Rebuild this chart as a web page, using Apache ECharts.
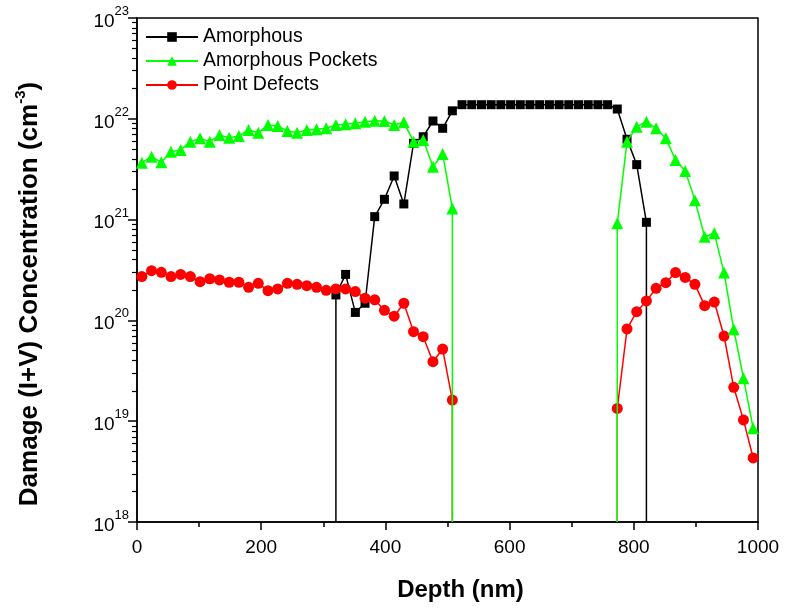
<!DOCTYPE html>
<html>
<head>
<meta charset="utf-8">
<script src="https://cdn.jsdelivr.net/npm/echarts@6/dist/echarts.min.js"></script>
<style>html,body{margin:0;padding:0;background:#fff;}#c{width:787px;height:610px;}</style>
</head>
<body>
<div id="c"></div>
<script>
// Depth positions (nm)
const depth = [7.8, 23.4, 39.1, 54.7, 70.3, 85.9, 101.6, 117.2, 132.8, 148.4, 164.1, 179.7, 195.3, 210.9, 226.6, 242.2,
  257.8, 273.4, 289.1, 304.7, 320.3, 335.9, 351.6, 367.2, 382.8, 398.4, 414.1, 429.7, 445.3, 460.9, 476.6, 492.2,
  507.8, 523.4, 539.1, 554.7, 570.3, 585.9, 601.6, 617.2, 632.8, 648.4, 664.1, 679.7, 695.3, 710.9, 726.6, 742.2,
  757.8, 773.4, 789.1, 804.7, 820.3, 835.9, 851.6, 867.2, 882.8, 898.4, 914.1, 929.7, 945.3, 960.9, 976.6, 992.2];

// Amorphous (cm^-3); null = zero (no damage)
const amorphous = [null, null, null, null, null, null, null, null, null, null, null, null, null, null, null, null,
  null, null, null, null, 1.79e20, 2.86e20, 1.20e20, 1.48e20, 1.07e21, 1.59e21, 2.71e21, 1.43e21, 5.71e21, 6.64e21, 9.51e21, 8.05e21,
  1.20e22, 1.38e22, 1.38e22, 1.38e22, 1.38e22, 1.38e22, 1.38e22, 1.38e22, 1.38e22, 1.38e22, 1.38e22, 1.38e22, 1.38e22, 1.38e22, 1.38e22, 1.38e22,
  1.38e22, 1.25e22, 6.27e21, 3.51e21, 9.40e20, null, null, null, null, null, null, null, null, null, null, null];

// Amorphous Pockets
const pockets = [3.67e21, 4.21e21, 3.70e21, 4.72e21, 4.90e21, 5.93e21, 6.40e21, 5.93e21, 6.90e21, 6.50e21, 6.75e21, 7.74e21, 7.28e21, 8.67e21, 8.49e21, 7.57e21,
  7.28e21, 7.74e21, 7.87e21, 8.05e21, 8.67e21, 8.81e21, 9.02e21, 9.35e21, 9.57e21, 9.51e21, 8.67e21, 9.23e21, 5.93e21, 6.17e21, 3.35e21, 4.48e21,
  1.29e21, null, null, null, null, null, null, null, null, null, null, null, null, null, null, null,
  null, 9.18e20, 5.93e21, 8.36e21, 9.35e21, 8.05e21, 6.40e21, 3.90e21, 3.03e21, 1.56e21, 6.76e20, 7.31e20, 2.98e20, 8.17e19, 2.67e19, 8.51e18];

// Point Defects
const pointDefects = [2.72e20, 3.11e20, 3.00e20, 2.72e20, 2.86e20, 2.72e20, 2.42e20, 2.59e20, 2.52e20, 2.39e20, 2.39e20, 2.13e20, 2.33e20, 1.97e20, 2.05e20, 2.33e20,
  2.28e20, 2.21e20, 2.13e20, 1.99e20, 2.05e20, 2.05e20, 1.93e20, 1.66e20, 1.60e20, 1.26e20, 1.10e20, 1.48e20, 7.73e19, 6.89e19, 3.89e19, 5.20e19,
  1.62e19, null, null, null, null, null, null, null, null, null, null, null, null, null, null, null,
  null, 1.34e19, 8.22e19, 1.22e20, 1.56e20, 2.08e20, 2.37e20, 2.98e20, 2.67e20, 2.28e20, 1.40e20, 1.52e20, 7.00e19, 2.17e19, 1.03e19, 4.32e18];

const seriesNames = ['Amorphous', 'Amorphous Pockets', 'Point Defects'];
const xTicks = [0, 200, 400, 600, 800, 1000];
const yMin = 1e18, yMax = 1e23;

// zero values on a log axis drop vertically to the bottom of the axis
function build(values) {
  const out = [];
  for (let i = 0; i < values.length; i++) {
    const v = values[i];
    const prev = i > 0 ? values[i - 1] : undefined;
    if (v == null) {
      if (prev != null && i > 0) out.push({ value: [depth[i - 1], yMin], symbol: 'none' });
      out.push([depth[i], '-']);
    } else {
      if (prev === null) out.push({ value: [depth[i], yMin], symbol: 'none' });
      out.push([depth[i], v]);
    }
  }
  return out;
}

const FONT = "'Liberation Sans', Arial, sans-serif";
const minorVals = [];
for (let e = 18; e < 23; e++) for (let m = 2; m <= 9; m++) minorVals.push(m * Math.pow(10, e));

const chart = echarts.init(document.getElementById('c'), null, { renderer: 'canvas' });
chart.setOption({
  animation: false,
  backgroundColor: '#fff',
  textStyle: { fontFamily: FONT },
  grid: { left: 137, right: 29, top: 18, bottom: 88, show: true, borderColor: '#000', borderWidth: 1.5, backgroundColor: 'transparent' },
  legend: {
    orient: 'vertical', left: 140, top: 22, itemWidth: 52, itemHeight: 12, itemGap: 4,
    textStyle: { fontSize: 19.5, color: '#000', fontFamily: FONT },
    data: seriesNames
  },
  xAxis: {
    type: 'value', min: xTicks[0], max: xTicks[xTicks.length - 1], interval: 200,
    name: 'Depth (nm)', nameLocation: 'middle', nameGap: 56,
    nameTextStyle: { fontSize: 24, fontWeight: 'bold', color: '#000', fontFamily: FONT, padding: [0, 0, 0, 26] },
    axisLine: { lineStyle: { color: '#000', width: 1.5 } },
    axisTick: { length: 8, lineStyle: { color: '#000', width: 1.5 } },
    minorTick: { show: true, splitNumber: 2, length: 5, lineStyle: { color: '#000', width: 1.5 } },
    axisLabel: { fontSize: 19, color: '#000', margin: 16, fontFamily: FONT, formatter: v => String(v) },
    splitLine: { show: false }
  },
  yAxis: [{
    type: 'log', logBase: 10, min: yMin, max: yMax,
    name: '{t|Damage (I+V) Concentration (cm}{s|-3}{t|)}', nameLocation: 'middle', nameGap: 94,
    nameTextStyle: {
      color: '#000', fontFamily: FONT, padding: [0, 48, 0, 0],
      rich: {
        t: { fontSize: 26, fontWeight: 'bold', color: '#000', fontFamily: FONT, lineHeight: 30, verticalAlign: 'bottom' },
        s: { fontSize: 15, fontWeight: 'bold', color: '#000', fontFamily: FONT, verticalAlign: 'top', lineHeight: 30 }
      }
    },
    axisLine: { show: true, lineStyle: { color: '#000', width: 1.5 } },
    axisTick: { length: 9, lineStyle: { color: '#000', width: 1.5 } },
    axisLabel: {
      margin: 8, color: '#000',
      formatter: v => '{b|10}{s|' + Math.round(Math.log10(v)) + '}',
      rich: {
        b: { fontSize: 19, color: '#000', fontFamily: FONT, lineHeight: 26, verticalAlign: 'bottom' },
        s: { fontSize: 13, color: '#000', fontFamily: FONT, lineHeight: 26, verticalAlign: 'top' }
      }
    },
    splitLine: { show: false }
  }, {
    type: 'log', logBase: 10, min: yMin, max: yMax, position: 'left',
    axisLine: { show: false },
    axisLabel: { show: false },
    axisTick: { show: true, length: 5, customValues: minorVals, lineStyle: { color: '#000', width: 1.2 } },
    splitLine: { show: false }
  }],
  series: [
    {
      name: seriesNames[0], type: 'line', data: build(amorphous), connectNulls: false,
      symbol: 'rect', symbolSize: 9, color: '#000', z: 2,
      lineStyle: { color: '#000', width: 1.5 }, itemStyle: { color: '#000' }, clip: true
    },
    {
      name: seriesNames[2], type: 'line', data: build(pointDefects), connectNulls: false,
      symbol: 'circle', symbolSize: 11, color: '#ff0000', z: 3,
      lineStyle: { color: '#ff0000', width: 1.5 }, itemStyle: { color: '#ff0000' }, clip: true
    },
    {
      name: seriesNames[1], type: 'line', data: build(pockets), connectNulls: false,
      symbol: 'triangle', symbolSize: 12, color: '#00ff00', z: 4,
      lineStyle: { color: '#00ff00', width: 1.5 }, itemStyle: { color: '#00ff00' }, clip: true
    }
  ]
});
</script>
</body>
</html>
